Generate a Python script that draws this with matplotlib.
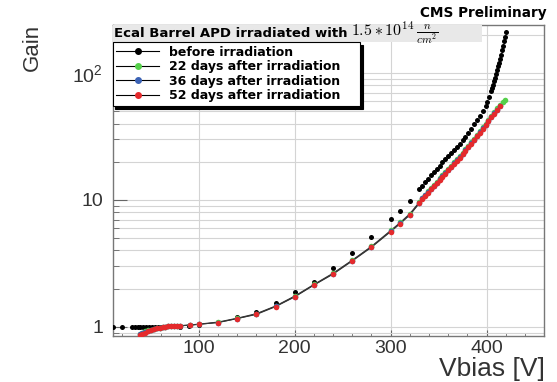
import numpy as np
import matplotlib
matplotlib.use('Agg')
import matplotlib.pyplot as plt
from matplotlib.lines import Line2D
from matplotlib.patches import Rectangle
from matplotlib.ticker import FixedLocator, FixedFormatter, LogLocator, MultipleLocator, NullFormatter

plt.rcParams['font.family'] = ['Liberation Sans', 'DejaVu Sans']
plt.rcParams['mathtext.fontset'] = 'cm'

# gain vs bias voltage, before irradiation
before_v = [10, 20, 30, 33, 36, 39, 42, 45, 48, 51, 54, 57, 60,
            80, 90, 100, 120, 140, 160, 180, 200, 220, 240, 260, 280, 300, 310, 320, 330,
            333, 336, 339, 342, 345, 348, 351, 354, 357, 360, 363, 366, 369, 372, 375, 378,
            381, 384, 387, 390, 393, 396, 399,
            401, 403, 405,
            406, 407, 408, 409, 410, 411, 412, 413, 414, 415, 416, 417, 418, 419, 420]
before_gain = [1.0, 1.0, 1.0, 1.0, 1.0, 1.0, 1.0, 1.0, 1.0, 1.0, 1.0, 1.0, 1.0,
               1.0, 1.01, 1.03, 1.09, 1.2, 1.31, 1.55, 1.88, 2.27, 2.92, 3.84, 5.13, 7.05, 8.2, 9.8, 12.2,
               13.0, 13.8, 14.7, 15.6, 16.6, 17.6, 18.7, 19.8, 21.0, 22.2, 23.4, 24.6, 26.1, 27.7, 29.5, 31.6,
               33.9, 36.5, 39.4, 42.6, 46.2, 50.4, 55.3,
               59.5, 65, 72,
               76, 81, 86, 92, 99, 106, 113, 121, 130, 140, 151, 163, 178, 194, 212]

# after irradiation (same voltage scan)
irr_v = [38, 41, 44, 47, 50, 53, 56, 59, 62, 65, 68, 71, 74, 77, 80,
         91, 100, 120, 140, 160, 180, 200, 220, 240, 260, 280, 300, 310, 320, 330,
         333, 336, 339, 342, 345, 348, 351, 354, 357, 360, 363, 366, 369, 372, 375, 378,
         381, 384, 387, 390, 393, 396, 399, 402, 405, 408, 411, 414]
green_v = irr_v + [417, 419]

gain_22d = [0.88, 0.90, 0.92, 0.935, 0.95, 0.96, 0.975, 0.985, 0.995, 1.0, 1.005, 1.01, 1.015, 1.02, 1.02,
            1.035, 1.05, 1.09, 1.17, 1.27, 1.46, 1.75, 2.16, 2.65, 3.36, 4.31, 5.75, 6.65, 7.8, 9.65,
            10.4, 11.0, 11.7, 12.4, 13.1, 13.9, 14.8, 15.7, 16.6, 17.6, 18.6, 19.8, 21.0, 22.2, 23.6, 25.1,
            26.8, 28.5, 30.5, 32.6, 34.9, 37.4, 40.0, 42.9, 46.1, 49.4, 52.9, 56.3,
            59.2, 61.5]
gain_36d = [0.87, 0.89, 0.91, 0.93, 0.945, 0.96, 0.975, 0.985, 0.995, 1.0, 1.005, 1.01, 1.01, 1.015, 1.02,
            1.03, 1.045, 1.08, 1.16, 1.26, 1.45, 1.73, 2.14, 2.62, 3.33, 4.27, 5.68, 6.57, 7.68, 9.5,
            10.3, 10.9, 11.5, 12.2, 12.9, 13.7, 14.6, 15.5, 16.3, 17.3, 18.3, 19.4, 20.6, 21.8, 23.2, 24.7,
            26.3, 28.0, 29.9, 32.0, 34.3, 36.7, 39.2, 42.0, 45.1, 48.3, 51.7, 55.5]
gain_52d = [0.86, 0.88, 0.90, 0.92, 0.94, 0.955, 0.97, 0.98, 0.99, 1.0, 1.005, 1.01, 1.01, 1.015, 1.015,
            1.03, 1.045, 1.08, 1.16, 1.25, 1.44, 1.72, 2.13, 2.60, 3.30, 4.23, 5.62, 6.50, 7.60, 9.40,
            10.2, 10.8, 11.4, 12.1, 12.8, 13.6, 14.4, 15.3, 16.1, 17.1, 18.1, 19.2, 20.4, 21.6, 23.0, 24.5,
            26.1, 27.8, 29.7, 31.8, 34.0, 36.4, 38.9, 41.7, 44.8, 48.0, 51.3, 55.0]

labels = ['before irradiation', '22 days after irradiation',
          '36 days after irradiation', '52 days after irradiation']
colors = ['#000000', '#55d04a', '#3b62b5', '#e42a2c']

x_ticks = [100, 200, 300, 400]
y_ticks = [1, 10, 100]
y_tick_labels = ['1', '10', r'$\mathdefault{10^2}$']

fig = plt.figure(figsize=(5.57, 3.82), dpi=100)
ax = fig.add_axes([0.2023, 0.1212, 0.7744, 0.8134])

# before: markers only
ax.plot(before_v, before_gain, ls='none', marker='o', ms=3.6, color=colors[0], mec='none', zorder=3)
# after irradiation: thin line + markers
for v, g, c in [(green_v, gain_22d, colors[1]), (irr_v, gain_36d, colors[2]), (irr_v, gain_52d, colors[3])]:
    ax.plot(v, g, color='#333333', lw=0.7, zorder=3)
    ax.plot(v, g, ls='none', marker='o', ms=4.0, color=c, mec='none', zorder=4)

ax.set_yscale('log')
ax.set_xlim(10, 460)
ax.set_ylim(0.85, 240)

ax.xaxis.set_major_locator(FixedLocator(x_ticks))
ax.xaxis.set_minor_locator(MultipleLocator(20))
ax.yaxis.set_major_locator(FixedLocator(y_ticks))
ax.yaxis.set_major_formatter(FixedFormatter(y_tick_labels))
ax.yaxis.set_minor_locator(LogLocator(subs=np.arange(2, 10)))
ax.yaxis.set_minor_formatter(NullFormatter())

ax.set_axisbelow(True)
ax.grid(True, which='major', axis='x', color='#d4d4d4', lw=0.8)
ax.grid(True, which='both', axis='y', color='#d4d4d4', lw=0.8)

ax.tick_params(which='both', direction='in', colors='#666666', labelcolor='#333333', labelsize=14)
ax.tick_params(axis='x', which='major', length=4, pad=3)
ax.tick_params(axis='x', which='minor', length=2.5)
ax.tick_params(axis='y', which='major', length=10, pad=7)
ax.tick_params(axis='y', which='minor', length=4)
for s in ax.spines.values():
    s.set_color('#777777')
    s.set_linewidth(1.0)

bold_font = ['DejaVu Sans']

# title bar on top of the frame
ax.add_patch(Rectangle((0, 0.945), 0.856, 0.055, transform=ax.transAxes,
                       facecolor='#e8e8e8', edgecolor='none', zorder=5, clip_on=False))
t1 = ax.text(0.004, 0.972, 'Ecal Barrel APD irradiated with', transform=ax.transAxes,
             family=bold_font, fontsize=9.5, fontweight='bold', va='center', ha='left', zorder=6)
ax.annotate(r'$1.5 * 10^{14}\,\frac{n}{cm^2}$', xy=(1, 0.5), xycoords=t1,
            xytext=(2, 0), textcoords='offset points', va='center', ha='left',
            fontsize=11.5, zorder=6)

handles = [Line2D([], [], color='black', lw=0.8, marker='o', ms=4, mfc=c, mec=c) for c in colors]
leg = ax.legend(handles, labels, loc='upper left', bbox_to_anchor=(0.0, 0.7425, 0.573, 0.2025),
                mode='expand', borderaxespad=0,
                prop={'family': bold_font, 'weight': 'bold', 'size': 9},
                handlelength=3.4, handletextpad=0.8, labelspacing=0.12, borderpad=0.3,
                fancybox=False, framealpha=1, edgecolor='black',
                shadow={'color': 'black', 'alpha': 1})
leg.get_frame().set_linewidth(0.8)
leg.set_zorder(7)

fig.text(547 / 557, 1 - 13 / 382, 'CMS Preliminary', ha='right', va='center',
         family=bold_font, fontsize=9.8, fontweight='bold')
fig.text(32 / 557, 1 - 47 / 382, 'Gain', rotation=90, ha='center', va='center',
         fontsize=16, color='#333333')
fig.text(545 / 557, 1 - 369 / 382, 'Vbias [V]', ha='right', va='center',
         fontsize=19, color='#333333')

fig.savefig('out.png', dpi=100)
